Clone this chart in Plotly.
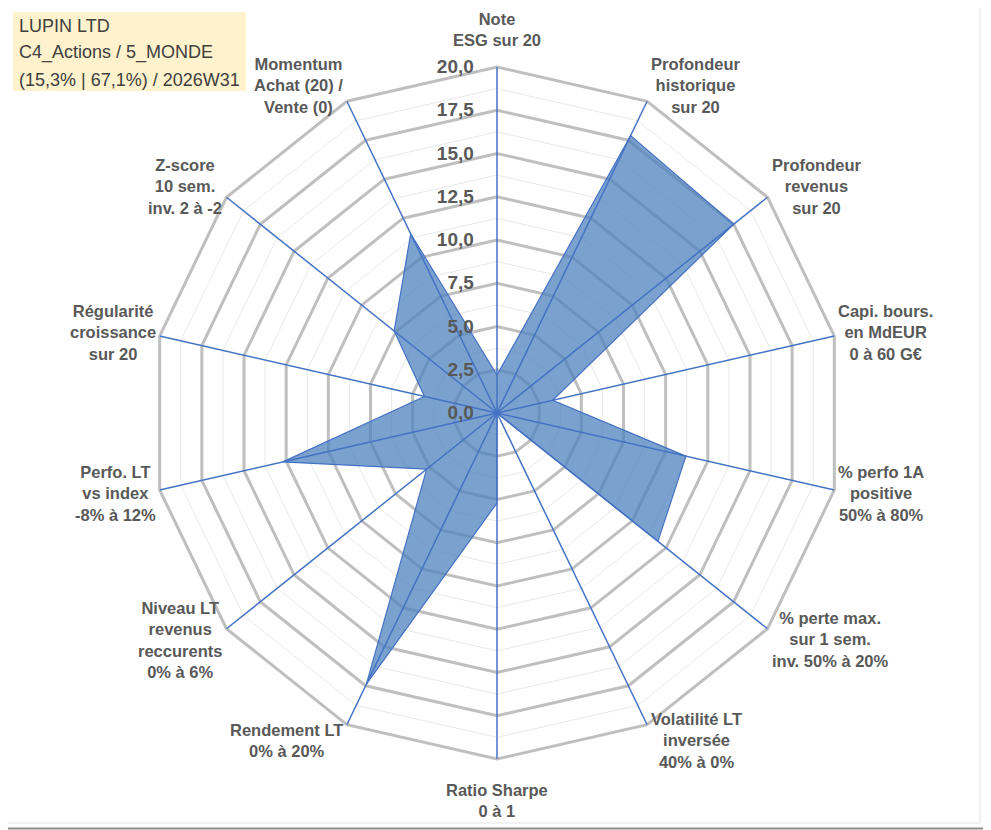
import math
import plotly.graph_objects as go

# axes of the radar (clockwise from the top)
axes_labels = [
    "Note<br>ESG sur 20",
    "Profondeur<br>historique<br>sur 20",
    "Profondeur<br>revenus<br>sur 20",
    "Capi. bours.<br>en MdEUR<br>0 à 60 G€",
    "% perfo 1A<br>positive<br>50% à 80%",
    "% perte max.<br>sur 1 sem.<br>inv. 50% à 20%",
    "Volatilité LT<br>inversée<br>40% à 0%",
    "Ratio Sharpe<br>0 à 1",
    "Rendement LT<br>0% à 20%",
    "Niveau LT<br>revenus<br>reccurents<br>0% à 6%",
    "Perfo. LT<br>vs index<br>-8% à 12%",
    "Régularité<br>croissance<br>sur 20",
    "Z-score<br>10 sem.<br>inv. 2 à -2",
    "Momentum<br>Achat (20) /<br>Vente (0)",
]
scores = [2.2, 17.8, 17.5, 3.3, 11.2, 11.9, 0.0, 5.2, 17.4, 5.2, 12.7, 4.3, 7.6, 11.5]

radial_ticks = [0, 2.5, 5, 7.5, 10, 12.5, 15, 17.5, 20]
minor_levels = [1.25, 3.75, 6.25, 8.75, 11.25, 13.75, 16.25, 18.75]
r_max = 20

info_lines = ["LUPIN LTD", "C4_Actions / 5_MONDE", "(15,3% | 67,1%) / 2026W31"]

# the page puts the figure 8px in from the window corner
OFF = 8
W, H = 991 - OFF, 830 - OFF
cx, cy, rad = 497 - OFF, 413 - OFF, 346


def xp(x):
    return x / W


def yp(y):
    return 1 - y / H


fig = go.Figure()

# light minor grid polygons
for lv in minor_levels:
    fig.add_trace(go.Scatterpolar(
        r=[lv] * (len(axes_labels) + 1),
        theta=axes_labels + axes_labels[:1],
        mode="lines", line=dict(color="#E9E9E9", width=1),
        hoverinfo="skip", showlegend=False))

# the data
fig.add_trace(go.Scatterpolar(
    r=scores + scores[:1],
    theta=axes_labels + axes_labels[:1],
    mode="lines", fill="toself",
    fillcolor="rgba(79,129,189,0.75)",
    line=dict(color="#4472C4", width=1.2),
    showlegend=False))

# blue spokes drawn over the fill
spoke_r, spoke_t = [], []
for lab in axes_labels:
    spoke_r += [0, r_max, None]
    spoke_t += [lab, lab, lab]
fig.add_trace(go.Scatterpolar(
    r=spoke_r, theta=spoke_t, mode="lines",
    line=dict(color="#4472C4", width=1.5),
    hoverinfo="skip", showlegend=False))

lab_font = dict(family="Liberation Sans", size=16.5, color="#595959", weight="bold")

fig.update_layout(
    width=W, height=H,
    margin=dict(l=0, r=0, t=0, b=0),
    paper_bgcolor="white",
    separators=", ",
    showlegend=False,
    polar=dict(
        domain=dict(x=[xp(cx - rad), xp(cx + rad)],
                    y=[yp(cy + rad), yp(cy - rad)]),
        bgcolor="white",
        gridshape="linear",
        radialaxis=dict(
            range=[0, r_max], tickmode="array", tickvals=radial_ticks,
            tickformat=".1f", angle=90, tickangle=90, side="counterclockwise",
            showline=False, ticks="outside", ticklen=16, tickcolor="rgba(0,0,0,0)",
            gridcolor="#BFBFBF", gridwidth=3,
            tickfont=dict(family="Liberation Sans", size=19, color="#595959", weight="bold"),
            layer="above traces"),
        angularaxis=dict(
            direction="clockwise", rotation=90,
            showgrid=False, showline=True, linecolor="#BFBFBF", linewidth=3,
            ticks="", showticklabels=False, layer="below traces"),
    ),
)

# category labels, centred text set just outside each corner of the outer polygon
n = len(axes_labels)
gap_x, gap_y = 2, 18
gap_top, gap_bottom = 16, 20
for k, lab in enumerate(axes_labels):
    ang = math.radians(90 - 360 * k / n)
    ca, sa = math.cos(ang), math.sin(ang)
    vx = cx + rad * ca
    vy = cy - rad * sa
    if abs(ca) < 0.1:
        if sa > 0:
            xa, ya, px, py = "center", "bottom", vx, vy - gap_top
        else:
            xa, ya, px, py = "center", "top", vx, vy + gap_bottom
    else:
        xa, ya = ("left" if ca > 0 else "right"), "middle"
        px, py = vx + gap_x * (1 if ca > 0 else -1), vy - gap_y * sa
    fig.add_annotation(xref="paper", yref="paper", x=xp(px), y=yp(py),
                       text=lab, showarrow=False, xanchor=xa, yanchor=ya,
                       align="center", font=lab_font)

# info box top-left
fig.add_shape(type="rect", xref="paper", yref="paper",
              x0=xp(13 - OFF), x1=xp(246 - OFF), y0=yp(91 - OFF), y1=yp(12 - OFF),
              fillcolor="#FFF2CC", line=dict(width=0), layer="below")
for i, txt in enumerate(info_lines):
    fig.add_annotation(xref="paper", yref="paper", x=xp(17 - OFF), y=yp(26 + 27 * i - OFF),
                       text=txt, showarrow=False, xanchor="left", yanchor="middle",
                       font=dict(family="Liberation Sans", size=18, color="#404040"))

# chart borders (right and bottom edges)
fig.add_shape(type="line", xref="paper", yref="paper",
              x0=xp(989.5 - OFF), x1=xp(989.5 - OFF), y0=0, y1=1,
              line=dict(color="#8C8C8C", width=2))
fig.add_shape(type="line", xref="paper", yref="paper",
              x0=0, x1=1, y0=yp(828.5 - OFF), y1=yp(828.5 - OFF),
              line=dict(color="#8C8C8C", width=2))
fig.add_shape(type="line", xref="paper", yref="paper",
              x0=xp(980 - OFF), x1=xp(980 - OFF), y0=yp(823 - OFF), y1=1,
              line=dict(color="#E3E3E3", width=1))
fig.add_shape(type="line", xref="paper", yref="paper",
              x0=0, x1=xp(980 - OFF), y0=yp(823 - OFF), y1=yp(823 - OFF),
              line=dict(color="#E3E3E3", width=1))

fig.write_html("out.html")
